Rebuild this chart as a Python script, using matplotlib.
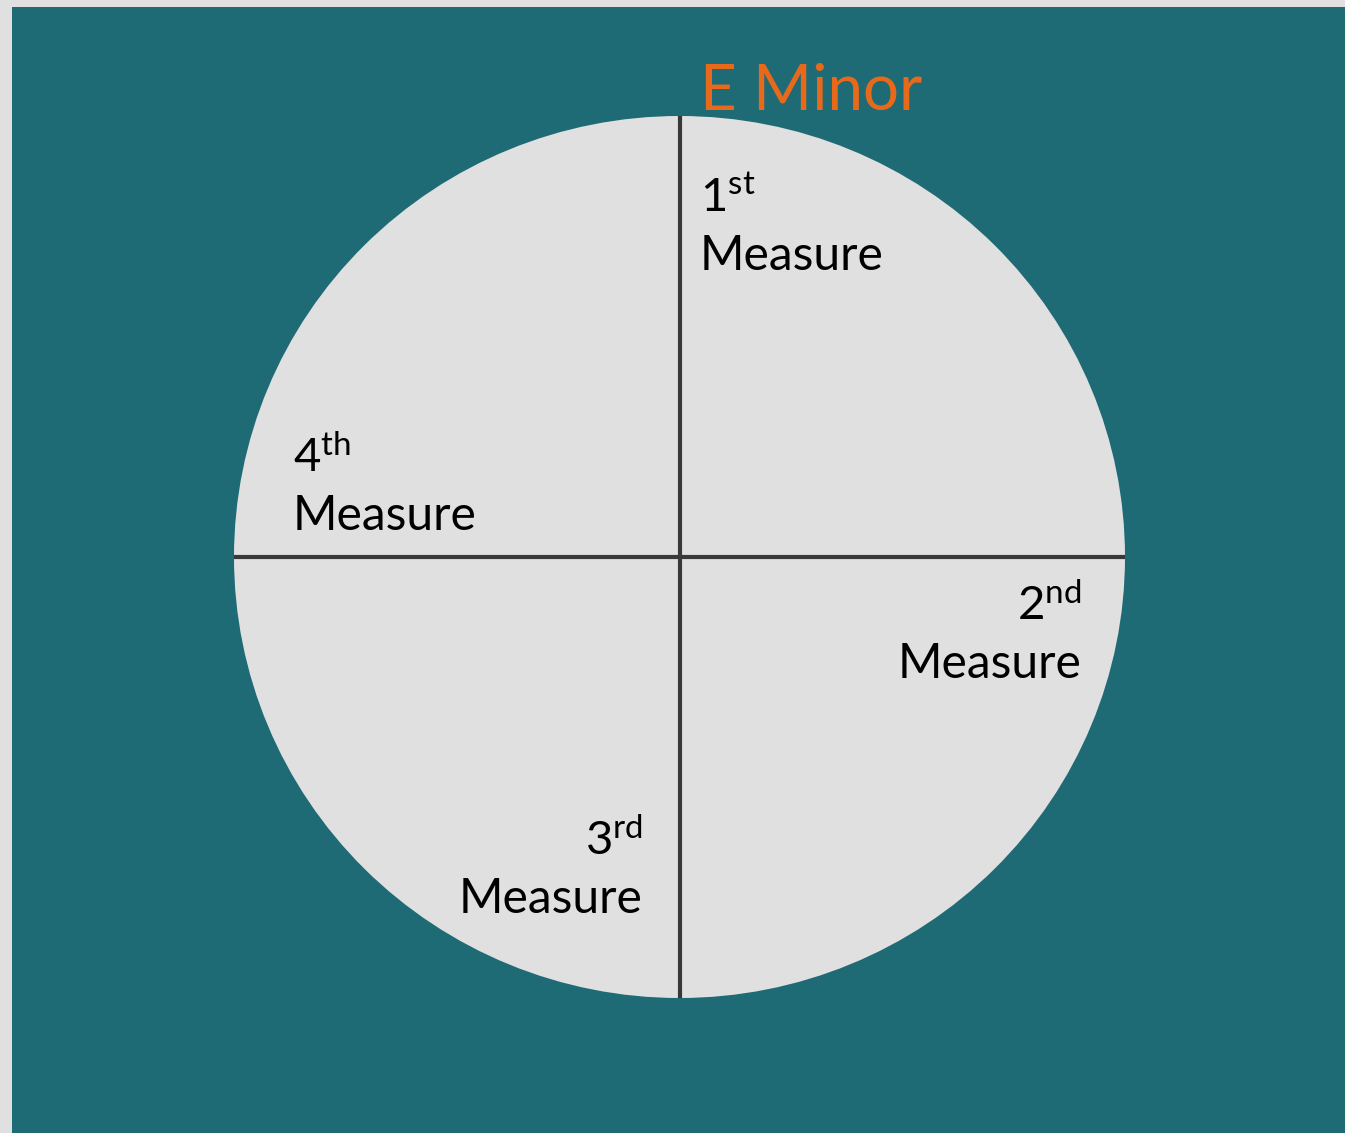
import numpy as np
import matplotlib
matplotlib.use("Agg")
import matplotlib.pyplot as plt

plt.rcParams['font.family'] = ['Lato', 'DejaVu Sans']

# data
measures = ['1', '2', '3', '4']
suffixes = ['st', 'nd', 'rd', 'th']
shares = [1, 1, 1, 1]
title = 'E Minor'

W, H = 1345, 1133
fig = plt.figure(figsize=(W / 100, H / 100), dpi=100)
fig.patch.set_facecolor('#e0e0e0')
fig.patches.append(plt.Rectangle((12 / W, 0), 1, (H - 7) / H, transform=fig.transFigure,
                                 facecolor='#1e6b76', edgecolor='none', zorder=-5))

ax = fig.add_axes([234 / W, (H - 998) / H, 891 / W, 882 / H])
ax.set_zorder(1)
wedges, _ = ax.pie(shares, startangle=90, counterclock=False, colors=['#e0e0e0'] * 4,
                   wedgeprops=dict(linewidth=0))
ax.set_aspect('auto')
ax.set_xlim(-1, 1)
ax.set_ylim(-1, 1)
ax.axis('off')

# slice boundaries
for w in wedges:
    a = np.deg2rad(w.theta1)
    ax.plot([0, round(np.cos(a), 6)], [0, round(np.sin(a), 6)], color='#383838', lw=3,
            solid_capstyle='butt')

# label layout: (x, baseline y, ha)
layout = [(0.046, 0.651, 'left'), (0.903, -0.274, 'right'),
          (-0.082, -0.807, 'right'), (-0.868, 0.061, 'left')]
for m, s, (x, y, ha) in zip(measures, suffixes, layout):
    ax.text(x, y, 'Measure', fontsize=34.6, ha=ha, va='baseline', color='black')
    ax.annotate(r'$\mathregular{%s^{%s}}$' % (m, s), (x, y), xytext=(0, 42),
                textcoords='offset points', fontsize=34, ha=ha, va='baseline', color='black')

fig.text(700 / W, (H - 110) / H, title, fontsize=45.8, color='#e8691a', ha='left', va='baseline')

fig.savefig('out.png', dpi=100, facecolor=fig.get_facecolor())
